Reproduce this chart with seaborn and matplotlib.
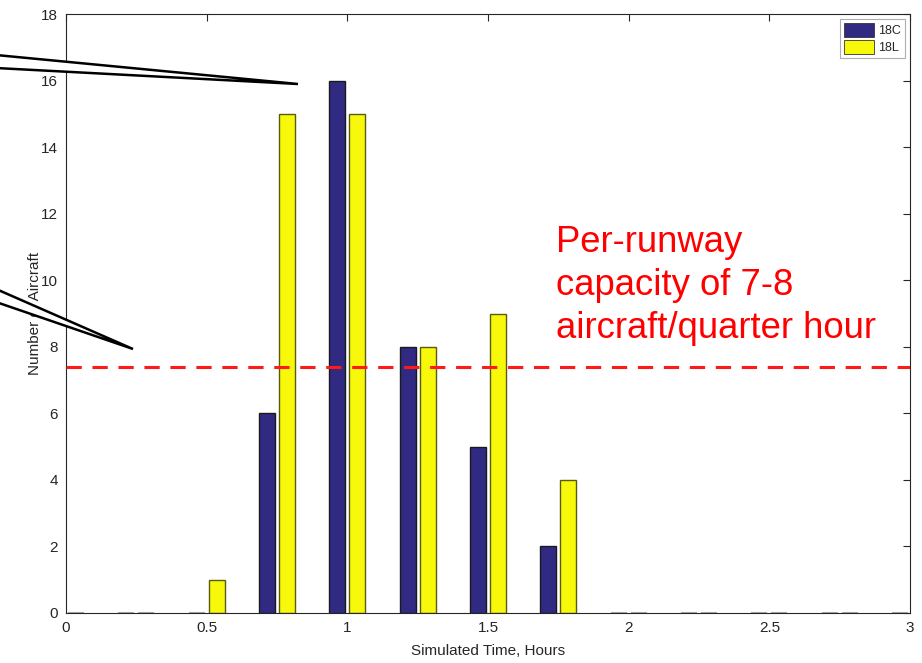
import matplotlib
matplotlib.use("Agg")
import matplotlib.pyplot as plt
from matplotlib.patches import Polygon, Patch
import numpy as np
import pandas as pd
import seaborn as sns

# Arrivals per quarter hour for each runway
times = [0.0, 0.25, 0.5, 0.75, 1.0, 1.25, 1.5, 1.75, 2.0, 2.25, 2.5, 2.75, 3.0]
arrivals_18C = [0, 0, 0, 6, 16, 8, 5, 2, 0, 0, 0, 0, 0]
arrivals_18L = [0, 0, 1, 15, 15, 8, 9, 4, 0, 0, 0, 0, 0]
runways = ["18C", "18L"]
capacity_line = 7.4

x_ticks = [0, 0.5, 1, 1.5, 2, 2.5, 3]
y_ticks = list(range(0, 19, 2))

fill_colors = {"18C": "#312a82", "18L": "#f8f80a"}
edge_colors = {"18C": "#1a1a1a", "18L": "#5a5a10"}

df = pd.DataFrame({
    "time": times * 2,
    "count": arrivals_18C + arrivals_18L,
    "runway": ["18C"] * len(times) + ["18L"] * len(times),
})

sns.set_theme(style="white")
plt.rcParams["font.family"] = "sans-serif"
plt.rcParams["font.sans-serif"] = ["Liberation Sans"]
FONT = ["Liberation Sans", "DejaVu Sans"]

fig = plt.figure(figsize=(9.22, 6.63), dpi=100)
ax = fig.add_axes([66 / 922, 1 - 613 / 663, (910 - 66) / 922, (613 - 14) / 663])

sns.barplot(data=df, x="time", y="count", hue="runway", hue_order=runways,
            native_scale=True, width=0.57, gap=0.2, palette=fill_colors,
            linewidth=1.0, saturation=1, errorbar=None, legend=False, ax=ax)

for cont, name in zip(ax.containers, runways):
    for bar in cont:
        if bar.get_height() == 0:
            bar.set_edgecolor("#a8a8a8")
            bar.set_linewidth(1.5)
        else:
            bar.set_edgecolor(edge_colors[name])

ax.set_xlim(0, 3)
ax.set_ylim(0, 18)
ax.set_xticks(x_ticks)
ax.set_xticklabels([f"{t:g}" for t in x_ticks], fontfamily=FONT)
ax.set_yticks(y_ticks)
ax.set_yticklabels([str(v) for v in y_ticks], fontfamily=FONT)
ax.tick_params(direction="in", length=5, width=0.8, top=True, right=True,
               labelsize=11, labelcolor="#262626", color="#262626", pad=6)
for s in ax.spines.values():
    s.set_visible(True)
    s.set_color("#262626")
    s.set_linewidth(0.8)

ax.set_xlabel("Simulated Time, Hours", fontsize=11, color="#262626", labelpad=6,
              fontfamily=FONT)
ax.set_ylabel("Number of Aircraft", fontsize=11, color="#262626", labelpad=-1,
              fontfamily=FONT)

# Capacity threshold
ax.axhline(capacity_line, color="#ff1a1a", linestyle=(0, (5, 3.5)), linewidth=2.2, zorder=5)

ax.text(0.581, 0.648, "Per-runway\ncapacity of 7-8\naircraft/quarter hour",
        transform=ax.transAxes, color="#ff0000", fontsize=26.3, fontfamily=FONT,
        va="top", ha="left", linespacing=1.3)

# Legend
handles = [Patch(facecolor=fill_colors[r], edgecolor="#333333", linewidth=0.6, label=r)
           for r in runways]
leg = ax.legend(handles=handles, loc="upper right", prop={"family": FONT, "size": 9},
                frameon=True, fancybox=False, handlelength=2.4, handleheight=1.3,
                handletextpad=0.3, borderpad=0.35, labelspacing=0.2, borderaxespad=0.4)
leg.get_frame().set_edgecolor("#999999")
leg.get_frame().set_linewidth(0.8)

# Callout pointers drawn over the figure
def px(x, y):
    return (x / 922, 1 - y / 663)

for pts in ([(-4, 55), (298, 84), (-4, 68)], [(-4, 289), (133, 349), (-4, 302)]):
    poly = Polygon([px(*p) for p in pts], closed=True, facecolor="white",
                   edgecolor="black", linewidth=1.8, transform=fig.transFigure,
                   zorder=10, joinstyle="miter")
    fig.add_artist(poly)

fig.savefig("out.png", dpi=100)
